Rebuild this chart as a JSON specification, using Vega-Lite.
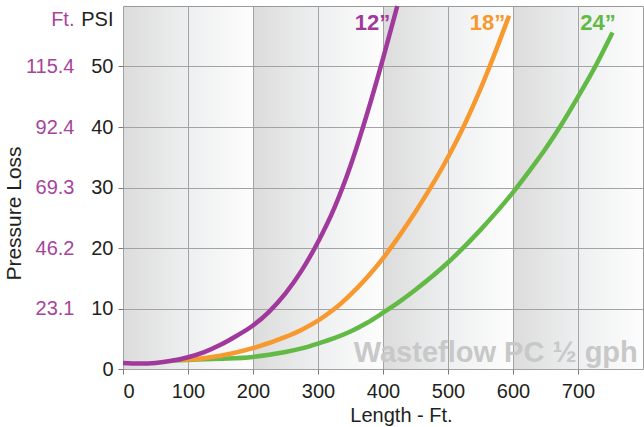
{
  "$schema": "https://vega.github.io/schema/vega-lite/v6.json",
  "width": 520,
  "height": 363,
  "autosize": {"type": "none"},
  "padding": {"left": 123, "top": 6, "right": 1, "bottom": 58},
  "config": {
    "font": "Liberation Sans",
    "view": {
      "stroke": "#9a9a9a",
      "strokeWidth": 1,
      "fill": {
        "gradient": "linear", "x1": 0, "y1": 0, "x2": 1, "y2": 0,
        "stops": [
          {"offset": 0, "color": "#dcdcdc"}, {"offset": 0.125, "color": "#eeeff0"}, {"offset": 0.2495, "color": "#fdfdfd"},
          {"offset": 0.25, "color": "#dcdcdc"}, {"offset": 0.375, "color": "#eeeff0"}, {"offset": 0.4995, "color": "#fdfdfd"},
          {"offset": 0.5, "color": "#dcdcdc"}, {"offset": 0.625, "color": "#eeeff0"}, {"offset": 0.7495, "color": "#fdfdfd"},
          {"offset": 0.75, "color": "#dcdcdc"}, {"offset": 0.875, "color": "#eeeff0"}, {"offset": 1, "color": "#fdfdfd"}
        ]
      }
    }
  },
  "datasets": {
    "curves": [
      {"size": "24”", "len": 75, "psi": 1.45}, {"size": "24”", "len": 100, "psi": 1.5}, {"size": "24”", "len": 150, "psi": 1.68},
      {"size": "24”", "len": 200, "psi": 2.0}, {"size": "24”", "len": 225, "psi": 2.35}, {"size": "24”", "len": 250, "psi": 2.8},
      {"size": "24”", "len": 275, "psi": 3.4}, {"size": "24”", "len": 300, "psi": 4.2}, {"size": "24”", "len": 325, "psi": 5.1},
      {"size": "24”", "len": 350, "psi": 6.2}, {"size": "24”", "len": 375, "psi": 7.6}, {"size": "24”", "len": 400, "psi": 9.3},
      {"size": "24”", "len": 425, "psi": 11.1}, {"size": "24”", "len": 450, "psi": 13.1}, {"size": "24”", "len": 500, "psi": 17.6},
      {"size": "24”", "len": 550, "psi": 23.0}, {"size": "24”", "len": 600, "psi": 29.2}, {"size": "24”", "len": 625, "psi": 32.7},
      {"size": "24”", "len": 650, "psi": 36.4}, {"size": "24”", "len": 675, "psi": 40.5}, {"size": "24”", "len": 700, "psi": 45.0},
      {"size": "24”", "len": 725, "psi": 49.7}, {"size": "24”", "len": 753, "psi": 55.6},
      {"size": "18”", "len": 90, "psi": 1.5}, {"size": "18”", "len": 100, "psi": 1.55}, {"size": "18”", "len": 150, "psi": 2.2},
      {"size": "18”", "len": 200, "psi": 3.45}, {"size": "18”", "len": 250, "psi": 5.3}, {"size": "18”", "len": 275, "psi": 6.5},
      {"size": "18”", "len": 300, "psi": 8.0}, {"size": "18”", "len": 325, "psi": 9.9}, {"size": "18”", "len": 350, "psi": 12.3},
      {"size": "18”", "len": 375, "psi": 15.1}, {"size": "18”", "len": 400, "psi": 18.3}, {"size": "18”", "len": 425, "psi": 22.0},
      {"size": "18”", "len": 450, "psi": 26.0}, {"size": "18”", "len": 475, "psi": 30.3}, {"size": "18”", "len": 500, "psi": 35.0},
      {"size": "18”", "len": 525, "psi": 40.3}, {"size": "18”", "len": 550, "psi": 46.3}, {"size": "18”", "len": 575, "psi": 53.0},
      {"size": "18”", "len": 594, "psi": 58.4},
      {"size": "12”", "len": 0, "psi": 1.0}, {"size": "12”", "len": 25, "psi": 0.9}, {"size": "12”", "len": 50, "psi": 1.0},
      {"size": "12”", "len": 75, "psi": 1.35}, {"size": "12”", "len": 100, "psi": 1.95}, {"size": "12”", "len": 125, "psi": 2.8},
      {"size": "12”", "len": 150, "psi": 4.0}, {"size": "12”", "len": 175, "psi": 5.5}, {"size": "12”", "len": 200, "psi": 7.2},
      {"size": "12”", "len": 225, "psi": 9.5}, {"size": "12”", "len": 250, "psi": 12.5}, {"size": "12”", "len": 275, "psi": 16.3},
      {"size": "12”", "len": 300, "psi": 21.0}, {"size": "12”", "len": 325, "psi": 26.6}, {"size": "12”", "len": 350, "psi": 33.6},
      {"size": "12”", "len": 375, "psi": 42.0}, {"size": "12”", "len": 400, "psi": 51.3}, {"size": "12”", "len": 422, "psi": 60.0}
    ],
    "labels": [
      {"size": "12”", "len": 411, "psi": 57.2},
      {"size": "18”", "len": 588, "psi": 57.2},
      {"size": "24”", "len": 758, "psi": 57.2}
    ],
    "note": [
      {"text": "Wasteflow PC ½ gph", "len": 792, "psi": 1.2}
    ]
  },
  "layer": [
    {
      "data": {"name": "note"},
      "mark": {"type": "text", "align": "right", "baseline": "alphabetic", "fontSize": 29, "fontWeight": "bold", "color": "#c8c8c8"},
      "encoding": {
        "x": {"field": "len", "type": "quantitative"},
        "y": {"field": "psi", "type": "quantitative", "scale": {"domain": [0, 60], "nice": false}, "axis": null},
        "text": {"field": "text"}
      }
    },
    {
      "data": {"name": "curves"},
      "mark": {"type": "line", "strokeWidth": 4.5, "interpolate": "monotone", "strokeCap": "butt"},
      "encoding": {
        "x": {
          "field": "len", "type": "quantitative",
          "scale": {"domain": [0, 800], "nice": false},
          "axis": {
            "values": [0, 100, 200, 300, 400, 500, 600, 700],
            "grid": true, "gridColor": "#a3a3a3", "gridWidth": 1, "domain": false,
            "tickSize": 5, "tickColor": "#7a7a7a", "labelFontSize": 20, "labelPadding": 7, "labelColor": "#231f20",
            "title": "Length - Ft.", "titleFontSize": 20, "titleFontWeight": "normal", "titleColor": "#231f20",
            "titleX": 278, "titleY": 52, "titleBaseline": "alphabetic", "titleAlign": "center"
          }
        },
        "y": {
          "field": "psi", "type": "quantitative",
          "scale": {"domain": [0, 60], "nice": false},
          "axis": {
            "orient": "left", "values": [0, 10, 20, 30, 40, 50],
            "grid": true, "gridColor": "#a3a3a3", "gridWidth": 1, "domain": false,
            "tickSize": 5, "tickColor": "#7a7a7a", "labelFontSize": 20, "labelPadding": 5, "labelColor": "#231f20",
            "title": "PSI", "titleAngle": 0, "titleAlign": "right", "titleBaseline": "alphabetic",
            "titleX": -10, "titleY": 19, "titleFontSize": 20, "titleFontWeight": "normal", "titleColor": "#231f20"
          }
        },
        "color": {
          "field": "size", "type": "nominal",
          "scale": {"domain": ["12”", "18”", "24”"], "range": ["#a0399b", "#f7992f", "#62b946"]},
          "legend": null
        }
      }
    },
    {
      "data": {"name": "curves"},
      "mark": {"type": "point", "opacity": 0},
      "encoding": {
        "x": {"field": "len", "type": "quantitative"},
        "y": {
          "field": "psi", "type": "quantitative",
          "scale": {"domain": [0, 60], "nice": false},
          "axis": {
            "orient": "left", "values": [10, 20, 30, 40, 50],
            "labelExpr": "datum.value == 50 ? '115.4' : format(datum.value * 2.31, '.1f')",
            "grid": false, "domain": false, "ticks": false, "tickSize": 0,
            "labelPadding": 49, "labelColor": "#a6449c", "labelFontSize": 20,
            "title": "Ft.", "titleAngle": 0, "titleAlign": "right", "titleBaseline": "alphabetic",
            "titleX": -49, "titleY": 19, "titleFontSize": 20, "titleFontWeight": "normal", "titleColor": "#a6449c"
          }
        }
      }
    },
    {
      "data": {"name": "curves"},
      "mark": {"type": "point", "opacity": 0},
      "encoding": {
        "x": {"field": "len", "type": "quantitative"},
        "y": {
          "field": "psi", "type": "quantitative",
          "scale": {"domain": [0, 60], "nice": false},
          "axis": {
            "orient": "left", "labels": false, "ticks": false, "domain": false, "grid": false,
            "title": "Pressure Loss", "titleAngle": 270, "titleAlign": "center", "titleBaseline": "middle",
            "titleX": -109, "titleY": 207, "titleFontSize": 21, "titleFontWeight": "normal", "titleColor": "#231f20"
          }
        }
      }
    },
    {
      "data": {"name": "labels"},
      "mark": {"type": "text", "align": "right", "baseline": "middle", "fontSize": 22, "fontWeight": "bold"},
      "encoding": {
        "x": {"field": "len", "type": "quantitative"},
        "y": {"field": "psi", "type": "quantitative", "scale": {"domain": [0, 60], "nice": false}, "axis": null},
        "text": {"field": "size"},
        "color": {"field": "size", "type": "nominal"}
      }
    }
  ],
  "resolve": {"scale": {"y": "independent"}, "axis": {"y": "independent"}}
}
